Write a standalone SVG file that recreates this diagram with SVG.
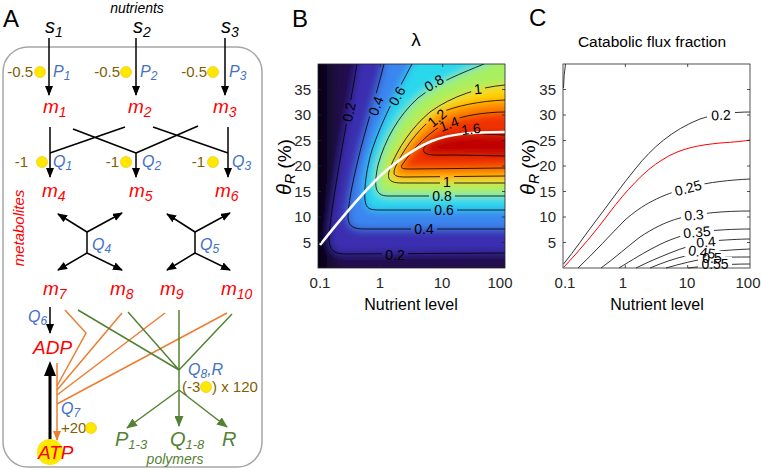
<svg xmlns="http://www.w3.org/2000/svg" width="761" height="470" viewBox="0 0 761 470">
<style>
text{font-family:"Liberation Sans",Arial,sans-serif}
.it{font-style:italic}
.m{font-size:19px;font-style:italic;fill:#ff0000}
.bl{font-size:16px;font-style:italic;fill:#4472c4}
.ol{font-size:15px;fill:#7f6000}
.sub{font-size:12px}
.ln{fill:none;stroke:#000;stroke-width:1.5}
.og{fill:none;stroke:#ed7d31;stroke-width:1.5}
.gn{fill:none;stroke:#548235;stroke-width:1.5}
.dot{fill:#ffe800;stroke:#f0c000;stroke-width:0.6}
.tk{font-size:15px;fill:#262626}
.cl{font-size:14px;fill:#000}
.ct{fill:none;stroke:#000;stroke-width:0.8}
.ax{fill:none;stroke:#262626;stroke-width:0.8}
</style>
<defs>
<marker id="ab" markerUnits="userSpaceOnUse" markerWidth="10" markerHeight="8" refX="9" refY="4" orient="auto"><path d="M0,0 L10,4 L0,8 Z" fill="#000"/></marker>
<marker id="ao" markerUnits="userSpaceOnUse" markerWidth="10" markerHeight="8" refX="9" refY="4" orient="auto"><path d="M0,0 L10,4 L0,8 Z" fill="#ed7d31"/></marker>
<marker id="ag" markerUnits="userSpaceOnUse" markerWidth="11" markerHeight="9" refX="10" refY="4.5" orient="auto"><path d="M0,0 L11,4.5 L0,9 Z" fill="#548235"/></marker>
<clipPath id="clipB"><rect x="318" y="64" width="187" height="204"/></clipPath>
<filter id="blur" x="-10%" y="-10%" width="120%" height="120%"><feGaussianBlur stdDeviation="4"/></filter>
<linearGradient id="dark" gradientUnits="userSpaceOnUse" x1="318" y1="0" x2="340" y2="0"><stop offset="0" stop-color="#04000c"/><stop offset="1" stop-color="#24104e"/></linearGradient>
<mask id="mB" maskUnits="userSpaceOnUse" x="0" y="0" width="761" height="470">
<rect x="0" y="0" width="761" height="470" fill="#fff"/>
<g fill="#000">
<rect x="-12" y="-7" width="24" height="14" transform="translate(349,112) rotate(-78)"/>
<rect x="-12" y="-7" width="24" height="14" transform="translate(376,106) rotate(-70)"/>
<rect x="-12" y="-7" width="24" height="14" transform="translate(397,96) rotate(-60)"/>
<rect x="-12" y="-7" width="24" height="14" transform="translate(434,83) rotate(-30)"/>
<rect x="-7" y="-7" width="14" height="14" transform="translate(478,89) rotate(-5)"/>
<rect x="-12" y="-7" width="24" height="14" transform="translate(437,118) rotate(-40)"/>
<rect x="-12" y="-7" width="24" height="14" transform="translate(449,124) rotate(-20)"/>
<rect x="-12" y="-7" width="24" height="14" transform="translate(471,129) rotate(-8)"/>
<rect x="-7" y="-7" width="14" height="14" transform="translate(447,182)"/>
<rect x="-13" y="-7" width="26" height="14" transform="translate(442,196)"/>
<rect x="-13" y="-7" width="26" height="14" transform="translate(444,210)"/>
<rect x="-13" y="-7" width="26" height="14" transform="translate(424,229)"/>
<rect x="-13" y="-7" width="26" height="14" transform="translate(395,255)"/>
</g>
</mask>
<mask id="mC" maskUnits="userSpaceOnUse" x="0" y="0" width="761" height="470">
<rect x="0" y="0" width="761" height="470" fill="#fff"/>
<g fill="#000">
<rect x="-14" y="-7" width="28" height="14" transform="translate(721,115) rotate(-3)"/>
<rect x="-17" y="-7" width="34" height="14" transform="translate(688,188) rotate(-15)"/>
<rect x="-13" y="-7" width="26" height="14" transform="translate(694,215) rotate(-5)"/>
<rect x="-17" y="-7" width="34" height="14" transform="translate(697,232) rotate(-5)"/>
<rect x="-13" y="-7" width="26" height="14" transform="translate(706,242) rotate(-5)"/>
<rect x="-17" y="-7" width="34" height="14" transform="translate(702,252) rotate(8)"/>
<rect x="-13" y="-7" width="26" height="14" transform="translate(712,258)"/>
<rect x="-17" y="-7" width="34" height="14" transform="translate(715,264)"/>
</g>
</mask>
</defs>
<rect width="761" height="470" fill="#fff"/>

<!-- Panel A -->
<g id="panelA">
<text x="3" y="27" font-size="24" fill="#000">A</text>
<rect x="3" y="47" width="259" height="420" rx="25" ry="25" fill="none" stroke="#a6a6a6" stroke-width="1.5"/>
<text x="137" y="13" font-size="14" class="it" text-anchor="middle">nutrients</text>
<text transform="translate(24,228) rotate(-90)" font-size="15" class="it" fill="#ff0000" text-anchor="middle">metabolites</text>
</g>

<g id="connectors">
<path class="ln" d="M49,38 V95" marker-end="url(#ab)"/>
<path class="ln" d="M136,38 V95" marker-end="url(#ab)"/>
<path class="ln" d="M225,38 V95" marker-end="url(#ab)"/>
<path class="ln" d="M50,127 V177" marker-end="url(#ab)"/>
<path class="ln" d="M228,127 V177" marker-end="url(#ab)"/>
<path class="ln" d="M136,153 V177" marker-end="url(#ab)"/>
<path class="ln" d="M73,129 L136,153 M125,127 L50,153 M153,127 L228,153 M198,126 L136,153"/>
<path class="ln" d="M87,232 V253"/>
<path class="ln" d="M87,232 L58,214" marker-end="url(#ab)"/>
<path class="ln" d="M87,232 L122,213" marker-end="url(#ab)"/>
<path class="ln" d="M87,253 L58,270" marker-end="url(#ab)"/>
<path class="ln" d="M87,253 L122,270" marker-end="url(#ab)"/>
<path class="ln" d="M195,232 V253"/>
<path class="ln" d="M195,232 L167,214" marker-end="url(#ab)"/>
<path class="ln" d="M195,232 L230,213" marker-end="url(#ab)"/>
<path class="ln" d="M195,253 L167,270" marker-end="url(#ab)"/>
<path class="ln" d="M195,253 L230,270" marker-end="url(#ab)"/>
<path class="ln" d="M50,307 V333" marker-end="url(#ab)"/>
<path class="og" d="M65,310 L86,333 L57,386 M122,313 L57,390 M165,313 L57,395 M227,313 L57,404"/>
<path class="og" d="M57,363 V440" marker-end="url(#ao)"/>
<path class="gn" d="M78,310 L179,370 M128,312 L179,370 M232,314 L179,370 M179,310 V390"/>
<path class="gn" d="M179,390 L127,428" marker-end="url(#ag)"/>
<path class="gn" d="M179,390 V426" marker-end="url(#ag)"/>
<path class="gn" d="M179,390 L227,427" marker-end="url(#ag)"/>
<path d="M50,447 V375" stroke="#000" stroke-width="3" fill="none"/>
<path d="M50,361 L56,376 L44,376 Z" fill="#000"/>
</g>

<g id="s1"><text x="45" y="33" font-size="20" class="it">s<tspan font-size="14" dy="4">1</tspan></text></g>
<g id="s2"><text x="133" y="33" font-size="20" class="it">s<tspan font-size="14" dy="4">2</tspan></text></g>
<g id="s3"><text x="221" y="33" font-size="20" class="it">s<tspan font-size="14" dy="4">3</tspan></text></g>

<g id="P1"><text x="33" y="77" class="ol" text-anchor="end">-0.5</text><circle class="dot" cx="40" cy="72" r="5.5"/><text x="53" y="77" class="bl">P<tspan class="sub" dy="3">1</tspan></text></g>
<g id="P2"><text x="120" y="77" class="ol" text-anchor="end">-0.5</text><circle class="dot" cx="126" cy="72" r="5.5"/><text x="140" y="77" class="bl">P<tspan class="sub" dy="3">2</tspan></text></g>
<g id="P3"><text x="207" y="77" class="ol" text-anchor="end">-0.5</text><circle class="dot" cx="213" cy="72" r="5.5"/><text x="229" y="77" class="bl">P<tspan class="sub" dy="3">3</tspan></text></g>

<g id="m1"><text x="43" y="113" class="m">m<tspan font-size="14" dy="4">1</tspan></text></g>
<g id="m2"><text x="128" y="113" class="m">m<tspan font-size="14" dy="4">2</tspan></text></g>
<g id="m3"><text x="213" y="113" class="m">m<tspan font-size="14" dy="4">3</tspan></text></g>

<g id="Q1"><text x="28" y="167" class="ol" text-anchor="end">-1</text><circle class="dot" cx="42" cy="162" r="5.5"/><text x="53" y="167" class="bl">Q<tspan class="sub" dy="3">1</tspan></text></g>
<g id="Q2"><text x="119" y="167" class="ol" text-anchor="end">-1</text><circle class="dot" cx="126" cy="162" r="5.5"/><text x="142" y="167" class="bl">Q<tspan class="sub" dy="3">2</tspan></text></g>
<g id="Q3"><text x="205" y="167" class="ol" text-anchor="end">-1</text><circle class="dot" cx="213" cy="162" r="5.5"/><text x="232" y="167" class="bl">Q<tspan class="sub" dy="3">3</tspan></text></g>

<g id="m4"><text x="42" y="197" class="m">m<tspan font-size="14" dy="4">4</tspan></text></g>
<g id="m5"><text x="129" y="197" class="m">m<tspan font-size="14" dy="4">5</tspan></text></g>
<g id="m6"><text x="215" y="197" class="m">m<tspan font-size="14" dy="4">6</tspan></text></g>

<g id="Q4"><text x="92" y="250" class="bl">Q<tspan class="sub" dy="3">4</tspan></text></g>
<g id="Q5"><text x="200" y="250" class="bl">Q<tspan class="sub" dy="3">5</tspan></text></g>

<g id="m7"><text x="43" y="295" class="m">m<tspan font-size="14" dy="4">7</tspan></text></g>
<g id="m8"><text x="110" y="295" class="m">m<tspan font-size="14" dy="4">8</tspan></text></g>
<g id="m9"><text x="160" y="295" class="m">m<tspan font-size="14" dy="4">9</tspan></text></g>
<g id="m10"><text x="221" y="295" class="m">m<tspan font-size="14" dy="4">10</tspan></text></g>

<g id="Q6"><text x="28" y="322" class="bl">Q<tspan class="sub" dy="3">6</tspan></text></g>
<g id="ADP"><text x="33" y="354" class="m">ADP</text></g>
<g id="Q7"><text x="61" y="414" class="bl">Q<tspan class="sub" dy="3">7</tspan></text><text x="61" y="433" class="ol">+20</text><circle class="dot" cx="91" cy="428" r="5.5"/></g>
<g id="Q8R"><text x="188" y="375" class="bl">Q<tspan class="sub" dy="3">8</tspan><tspan dy="-3">,R</tspan></text><text x="182" y="392" class="ol">(-3</text><circle class="dot" cx="206" cy="387" r="5.5"/><text x="212" y="392" class="ol">) x 120</text></g>
<g id="ATP"><circle cx="50" cy="452" r="13" fill="#ffe800"/><text x="38" y="459" class="m">ATP</text></g>
<g id="P13"><text x="115" y="446" font-size="20" class="it" fill="#548235">P<tspan font-size="13" dy="3">1-3</tspan></text></g>
<g id="Q18"><text x="170" y="446" font-size="20" class="it" fill="#548235">Q<tspan font-size="13" dy="3">1-8</tspan></text></g>
<g id="Rp"><text x="222" y="446" font-size="20" class="it" fill="#548235">R</text></g>
<g id="polymers"><text x="175" y="464" font-size="14" class="it" fill="#548235" text-anchor="middle">polymers</text></g>

<!-- Panel B -->
<g id="panelB">
<text x="292" y="27" font-size="24">B</text>
<text x="416" y="46" font-size="19" text-anchor="middle">λ</text>
<g clip-path="url(#clipB)">
<g filter="url(#blur)">
<rect x="300" y="45" width="225" height="245" fill="url(#dark)"/>
<path fill="#3a2eb0" d="M361,45 L357,64 C352,95 345,130 340,160 C335,190 330,220 329,238 C329,250 334,254 345,254 L525,253 L525,45 Z"/>
<path fill="#3a86f0" d="M388,45 L384,64 C375,100 365,130 358,160 C352,185 348,205 348,218 C349,227 354,229 365,229 L525,229 L525,45 Z"/>
<path fill="#2ad8ee" d="M420,45 L412,64 C398,90 382,120 372,150 C366,170 364,190 365,200 C366,209 370,210 380,210 L525,210 L525,45 Z"/>
<path fill="#a8f060" d="M525,45 L484,64 C462,73 438,82 418,98 C398,116 385,140 378,165 C374,185 374,196 388,196 L525,196 Z"/>
<path fill="#ffd400" d="M525,84 L505,85 C480,87 452,96 430,112 C412,127 398,148 390,168 C386,180 390,183 402,183 L525,183 Z"/>
<path fill="#ff8800" d="M525,100 L505,100 C480,101 455,106 440,113 C425,122 405,145 395,168 C392,176 396,177 406,177 L525,176 Z"/>
<path fill="#f03000" d="M525,112 L505,112 C485,112 462,116 450,121 C430,130 412,150 402,165 C400,169 404,169 412,169 L525,168 Z"/>
<path fill="#c00000" d="M525,135 L505,135 C485,134 465,133 450,136 C428,140 420,148 425,153 C430,156 440,155 455,155 L525,156 Z"/>
</g>
</g>
<g class="ct" mask="url(#mB)" clip-path="url(#clipB)">
<path d="M357,64 C352,95 345,130 340,160 C335,190 330,220 329,238 C329,250 334,254 345,254 L505,253"/>
<path d="M384,64 C375,100 365,130 358,160 C352,185 348,205 348,218 C349,227 354,229 365,229 L505,229"/>
<path d="M412,64 C398,90 382,120 372,150 C366,170 364,190 365,200 C366,209 370,210 380,210 L505,210"/>
<path d="M484,64 C462,73 438,82 418,98 C398,116 385,140 378,165 C374,185 374,196 388,196 L505,196"/>
<path d="M505,85 C480,87 452,96 430,112 C412,127 398,148 390,168 C386,180 390,183 402,183 L505,183"/>
<path d="M505,100 C480,101 455,106 440,113 C425,122 405,145 395,168 C392,176 396,177 406,177 L505,176"/>
<path d="M505,112 C485,112 462,116 450,121 C430,130 412,150 402,165 C400,169 404,169 412,169 L505,168"/>
<path d="M505,135 C485,134 465,133 450,136 C428,140 420,148 425,153 C430,156 440,155 455,155 L505,156"/>
</g>
<path d="M320,245 C335,226 360,196 380,176 C398,160 415,148 432,141 C450,134 470,132 505,132" fill="none" stroke="#fff" stroke-width="2.5" clip-path="url(#clipB)"/>
<g class="cl" text-anchor="middle">
<text transform="translate(349,112) rotate(-78)" dy="5">0.2</text>
<text transform="translate(376,106) rotate(-70)" dy="5">0.4</text>
<text transform="translate(397,96) rotate(-60)" dy="5">0.6</text>
<text transform="translate(434,83) rotate(-30)" dy="5">0.8</text>
<text transform="translate(478,89) rotate(-5)" dy="5">1</text>
<text transform="translate(437,118) rotate(-40)" dy="5">1.2</text>
<text transform="translate(449,124) rotate(-20)" dy="5">1.4</text>
<text transform="translate(471,129) rotate(-8)" dy="5">1.6</text>
<text x="447" y="187">1</text>
<text x="442" y="201">0.8</text>
<text x="444" y="215">0.6</text>
<text x="424" y="234">0.4</text>
<text x="395" y="260">0.2</text>
</g>
<rect class="ax" x="318" y="64" width="187" height="204"/>
<path class="ax" d="M380.3,268 v-3 M442.7,268 v-3 M380.3,64 v3 M442.7,64 v3 M318,242.5 h3 M318,217 h3 M318,191.5 h3 M318,166 h3 M318,140.5 h3 M318,115 h3 M318,89.5 h3 M505,242.5 h-3 M505,217 h-3 M505,191.5 h-3 M505,166 h-3 M505,140.5 h-3 M505,115 h-3 M505,89.5 h-3"/>
<g class="tk" text-anchor="end">
<text x="311" y="248">5</text><text x="311" y="222">10</text><text x="311" y="197">15</text><text x="311" y="171">20</text><text x="311" y="146">25</text><text x="311" y="120">30</text><text x="311" y="95">35</text>
</g>
<g class="tk" text-anchor="middle">
<text x="320" y="288">0.1</text><text x="380" y="288">1</text><text x="442" y="288">10</text><text x="500" y="288">100</text>
</g>
<text x="411" y="310" font-size="16" text-anchor="middle">Nutrient level</text>
<text transform="translate(291,167) rotate(-90)" text-anchor="middle" font-size="19"><tspan class="it" font-size="20">θ</tspan><tspan font-size="14" dy="4" class="it">R</tspan><tspan dy="-4"> (%)</tspan></text>
</g>

<!-- Panel C -->
<g id="panelC">
<text x="529" y="26" font-size="24">C</text>
<text x="652" y="47" font-size="15.5" text-anchor="middle">Catabolic flux fraction</text>
<g class="ct" mask="url(#mC)">
<path d="M565.5,64 Q563.8,75 563.5,88"/>
<path d="M563.5,264 C575,250 585,235 595,222 C608,205 622,185 636,168 C652,148 672,130 700,119 C715,114 735,112 750,112"/>
<path d="M578,268 C595,252 610,235 625,220 C642,205 660,195 690,187 C710,182 730,180 750,179"/>
<path d="M601,268 C615,258 628,246 640,237 C652,229 665,222 680,218 C700,213 725,211 750,211"/>
<path d="M619,268 C632,260 645,252 655,247 C668,240 682,235 698,232 C715,230 735,229 750,229"/>
<path d="M636,268 C648,262 660,257 670,253 C682,248 695,244 710,241 C725,240 740,239 750,239"/>
<path d="M650,268 C662,263 675,258 690,255 C705,252 725,250 750,249"/>
<path d="M666,268 C680,264 695,260 710,258 C725,257 740,257 750,257"/>
<path d="M688,268 C705,266 725,264 750,264"/>
</g>
<path d="M564,267 C580,250 595,232 610,212 C625,192 645,170 662,160 C680,148 700,145 720,143 C735,142 745,141 750,140" fill="none" stroke="#ff0000" stroke-width="1"/>
<g class="cl" text-anchor="middle">
<text transform="translate(721,115) rotate(-3)" dy="5">0.2</text>
<text transform="translate(688,188) rotate(-15)" dy="5">0.25</text>
<text transform="translate(694,215) rotate(-5)" dy="5">0.3</text>
<text transform="translate(697,232) rotate(-5)" dy="5">0.35</text>
<text transform="translate(706,242) rotate(-5)" dy="5">0.4</text>
<text transform="translate(702,252) rotate(8)" dy="5">0.45</text>
<text transform="translate(712,258)" dy="5">0.5</text>
<text transform="translate(715,264)" dy="5">0.55</text>
</g>
<rect class="ax" x="563" y="64" width="187" height="204"/>
<path class="ax" d="M625.3,268 v-3 M687.7,268 v-3 M625.3,64 v3 M687.7,64 v3 M563,242.5 h3 M563,217 h3 M563,191.5 h3 M563,166 h3 M563,140.5 h3 M563,115 h3 M563,89.5 h3 M750,242.5 h-3 M750,217 h-3 M750,191.5 h-3 M750,166 h-3 M750,140.5 h-3 M750,115 h-3 M750,89.5 h-3"/>
<g class="tk" text-anchor="end">
<text x="556" y="248">5</text><text x="556" y="222">10</text><text x="556" y="197">15</text><text x="556" y="171">20</text><text x="556" y="146">25</text><text x="556" y="120">30</text><text x="556" y="95">35</text>
</g>
<g class="tk" text-anchor="middle">
<text x="565" y="288">0.1</text><text x="623" y="288">1</text><text x="687" y="288">10</text><text x="748" y="288">100</text>
</g>
<text x="657" y="310" font-size="16" text-anchor="middle">Nutrient level</text>
<text transform="translate(535,167) rotate(-90)" text-anchor="middle" font-size="19"><tspan class="it" font-size="20">θ</tspan><tspan font-size="14" dy="4" class="it">R</tspan><tspan dy="-4"> (%)</tspan></text>
</g>
</svg>
